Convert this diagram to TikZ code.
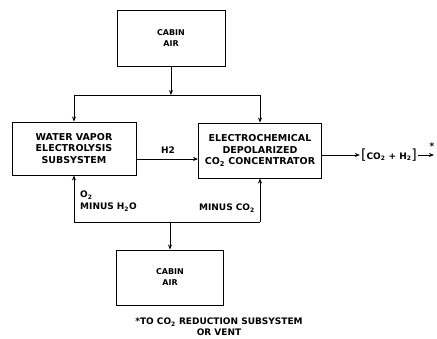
\documentclass[tikz,border=0pt]{standalone}
\usepackage{fontspec}
\setsansfont{DejaVu Sans}
\usetikzlibrary{arrows.meta}
\begin{document}
\begin{tikzpicture}[x = 1pt, y = -1pt,
        box/.style = {draw, line width = 1pt, align = center, inner sep = 2pt,
            font = \sffamily\bfseries\fontsize{9.5}{11.5}\selectfont},
        flow/.style = {line width = 0.9pt, -{Stealth[length = 5pt, width = 4pt]}},
        pipe/.style = {line width = 0.9pt},
        lbl/.style = {inner sep = 1pt, font = \sffamily\bfseries\fontsize{9}{10}\selectfont}]
        \useasboundingbox (0, 0) rectangle (437, 338);
        % cabin air boxes
        \node[box, minimum width = 108pt, minimum height = 56pt, font = \sffamily\bfseries\fontsize{8}{11}\selectfont] (cabtop) at (171, 38) {CABIN\\AIR};
        \node[box, minimum width = 107pt, minimum height = 55pt, font = \sffamily\bfseries\fontsize{8}{11}\selectfont] (cabbot) at (170, 277.5) {CABIN\\AIR};
        % subsystems
        \node[box, minimum width = 124pt, minimum height = 53pt] (wve) at (74, 148.5) {WATER VAPOR\\ELECTROLYSIS\\SUBSYSTEM};
        \node[box, minimum width = 123pt, minimum height = 55pt] (edc) at (260, 150.5) {ELECTROCHEMICAL\\DEPOLARIZED\\CO\textsubscript{2} CONCENTRATOR};
        % inlet manifold
        \coordinate (topjoin) at (171, 95);
        \coordinate (topleft) at (74, 95);
        \coordinate (topright) at (260, 95);
        \draw[flow] (cabtop) -- (topjoin);
        \draw[pipe] (topleft) -- (topright);
        \foreach \s/\t in {topleft/wve, topright/edc}{
            \draw[flow] (\s) -- (\t);
        }
        % hydrogen line
        \coordinate (h2lvl) at (0, 159);
        \draw[flow] (wve.east |- h2lvl) -- (edc.west |- h2lvl);
        \node[lbl] (h2) at (168, 150) {H2};
        % product stream
        \coordinate (outlvl) at (0, 155);
        \node[lbl] (prod) at (389, 155)
            {{\fontsize{14}{14}\selectfont\mdseries[}CO\textsubscript{2} + H\textsubscript{2}{\fontsize{14}{14}\selectfont\mdseries]}};
        \coordinate (exit) at (434, 155);
        \draw[flow] (edc.east |- outlvl) -- (prod);
        \draw[flow] (prod) -- (exit);
        \node[lbl] (star) at (432, 146) {*};
        % return manifold
        \coordinate (botleft) at (74, 222);
        \coordinate (botright) at (260, 222);
        \coordinate (botjoin) at (170, 222);
        \draw[pipe] (botleft) -- (botright);
        \foreach \s/\t in {botleft/wve, botright/edc, botjoin/cabbot}{
            \draw[flow] (\s) -- (\t);
        }
        \node[lbl, anchor = west] (o2) at (79, 195) {O\textsubscript{2}};
        \node[lbl, anchor = west] (mh2o) at (79, 207) {MINUS H\textsubscript{2}O};
        \node[lbl, anchor = east] (mco2) at (256, 208) {MINUS CO\textsubscript{2}};
        % footnote
        \node[lbl, align = center, font = \sffamily\bfseries\fontsize{9}{11}\selectfont] (note) at (219, 327)
            {*TO CO\textsubscript{2} REDUCTION SUBSYSTEM\\OR VENT};
    \end{tikzpicture}
\end{document}
